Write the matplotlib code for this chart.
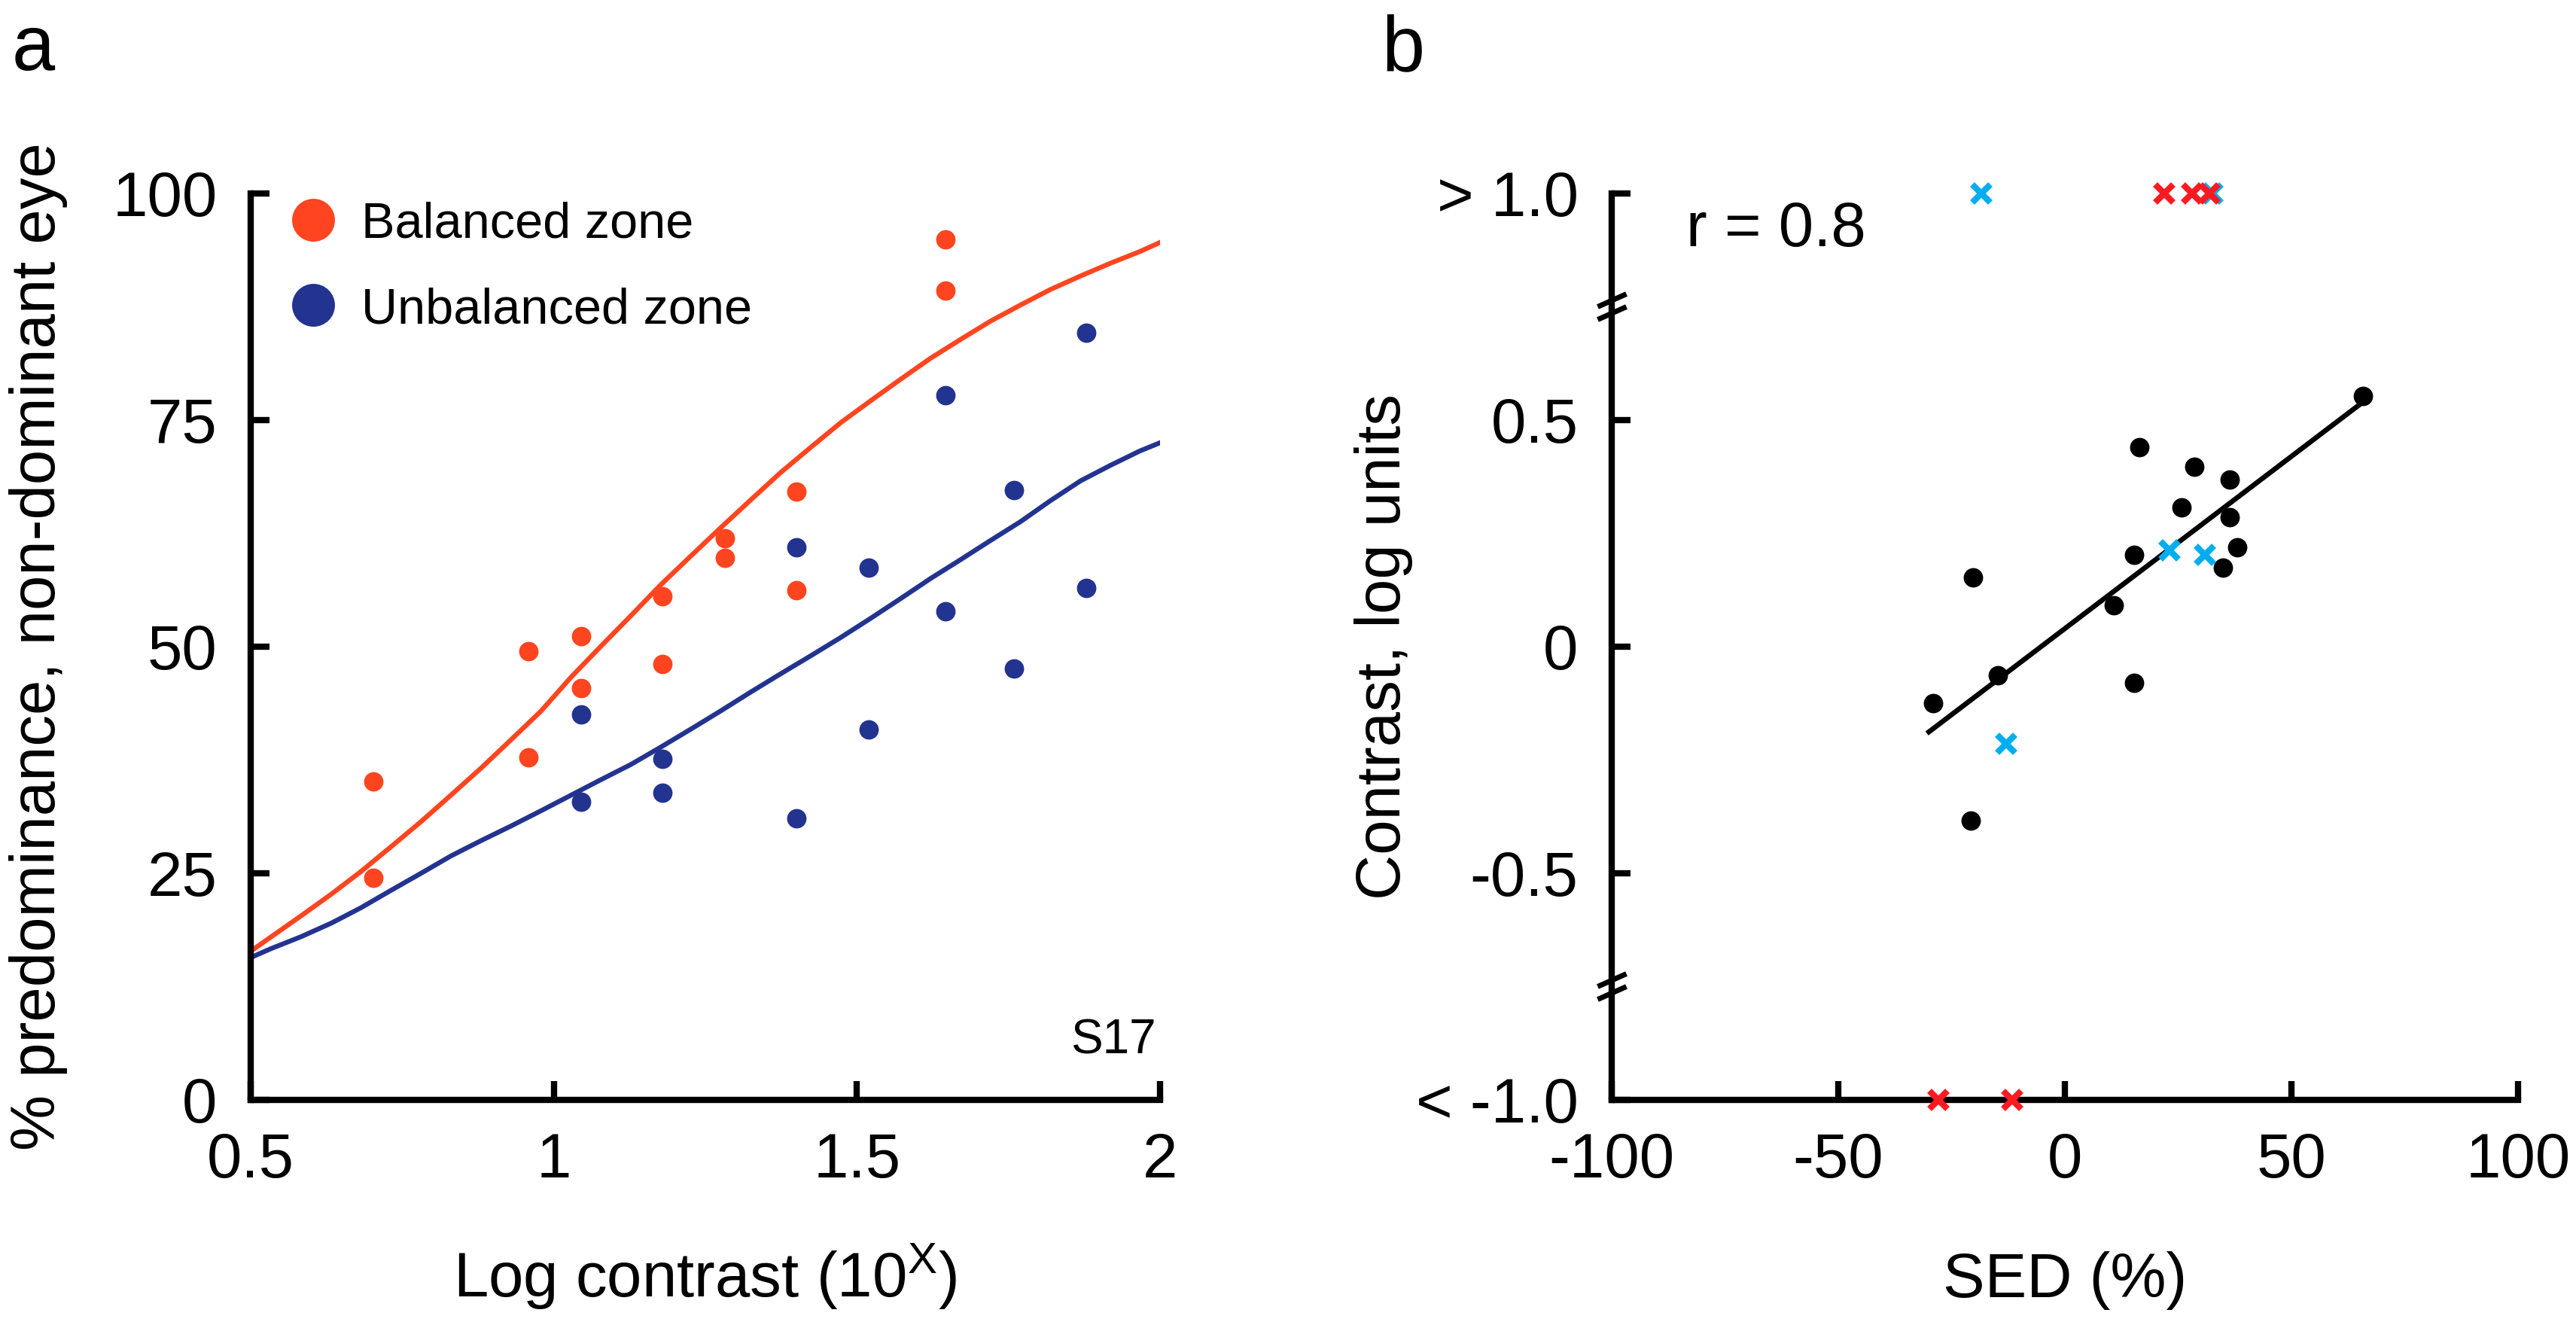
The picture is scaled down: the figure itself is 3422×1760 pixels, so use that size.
import numpy as np
import matplotlib
matplotlib.use("Agg")
import matplotlib.pyplot as plt
from matplotlib.path import Path

plt.rcParams["font.family"] = ["Liberation Sans", "DejaVu Sans"]
plt.rcParams["mathtext.fontset"] = "custom"
plt.rcParams["mathtext.rm"] = "Liberation Sans"
plt.rcParams["axes.unicode_minus"] = False

# ── DATA: panel a ────────────────────────────────────────────
bal_x = [0.702, 0.702, 0.958, 0.958, 1.045, 1.045, 1.179, 1.179,
         1.282, 1.282, 1.400, 1.400, 1.646, 1.646]
bal_y = [35.1, 24.5, 49.5, 37.8, 51.2, 45.4, 55.6, 48.1,
         62.0, 59.8, 67.1, 56.2, 94.9, 89.3]

unb_x = [1.045, 1.045, 1.179, 1.179, 1.400, 1.400, 1.519, 1.519,
         1.646, 1.646, 1.759, 1.759, 1.878, 1.878]
unb_y = [42.5, 32.9, 37.6, 33.9, 61.0, 31.1, 58.7, 40.9,
         77.7, 53.9, 67.3, 47.6, 84.6, 56.5]

# fitted curves
fit_x = [0.500, 0.534, 0.583, 0.633, 0.682, 0.731, 0.781, 0.830,
         0.880, 0.929, 0.979, 1.028, 1.077, 1.127, 1.176, 1.226,
         1.275, 1.325, 1.374, 1.424, 1.473, 1.522, 1.572, 1.621,
         1.671, 1.720, 1.770, 1.819, 1.869, 1.918, 1.967, 2.000]
bal_fit = [16.4, 18.0, 20.3, 22.7, 25.2, 27.9, 30.7, 33.6,
           36.6, 39.7, 42.9, 46.6, 50.0, 53.4, 56.8, 60.0,
           63.1, 66.2, 69.2, 72.0, 74.7, 77.1, 79.5, 81.8,
           83.9, 85.9, 87.7, 89.4, 90.9, 92.3, 93.6, 94.6]
unb_fit = [15.7, 16.7, 18.0, 19.5, 21.2, 23.1, 25.0, 26.9,
           28.6, 30.2, 31.9, 33.6, 35.3, 37.0, 38.9, 40.9,
           42.9, 45.0, 47.0, 49.0, 51.0, 53.1, 55.3, 57.5,
           59.6, 61.7, 63.8, 66.1, 68.3, 70.0, 71.6, 72.5]

a_xticks = [0.5, 1, 1.5, 2]
a_xlabels = ["0.5", "1", "1.5", "2"]
a_yticks = [0, 25, 50, 75, 100]

# ── DATA: panel b ────────────────────────────────────────────
sed_dots = [65.8, 16.4, 28.6, 36.4, 25.8, 36.4, 15.3, 38.1,
            34.8, -20.3, 10.8, -14.8, 15.3, -29.1, -20.8]
con_dots = [0.553, 0.440, 0.397, 0.368, 0.308, 0.286, 0.202, 0.220,
            0.174, 0.152, 0.092, -0.063, -0.080, -0.124, -0.384]

sed_cyan = [-18.4, 32.6, 23.1, 30.9, -13.0]
con_cyan = [1.0, 1.0, 0.213, 0.203, -0.214]

sed_red = [21.9, 28.1, 31.9, -27.9, -11.6]
con_red = [1.0, 1.0, 1.0, -1.0, -1.0]

reg_x = [-30.0, 65.8]
reg_y = [-0.188, 0.540]

b_xticks = [-100, -50, 0, 50, 100]
b_yticks = [-1.0, -0.5, 0, 0.5, 1.0]
b_ylabels = ["< -1.0", "-0.5", "0", "0.5", "> 1.0"]
break_y = [0.75, -0.75]

# ── STYLE ────────────────────────────────────────────────────
ORANGE = "#FF451F"
BLUE = "#233390"
CYAN = "#00AEEF"
RED = "#FF1A22"
FS = 30

fig = plt.figure(figsize=(17.11, 8.80), dpi=200)
ax_a = fig.add_axes([0.09731, 0.16989, 0.35301, 0.68409])
ax_b = fig.add_axes([0.62566, 0.16989, 0.35184, 0.68409])

for ax in (ax_a, ax_b):
    for s in ("top", "right"):
        ax.spines[s].set_visible(False)
    for s in ("left", "bottom"):
        ax.spines[s].set_linewidth(3.0)
        ax.spines[s].set_capstyle("projecting")
    ax.tick_params(direction="in", length=9, width=3.0, labelsize=FS)
    ax.tick_params(axis="x", pad=15)
    ax.tick_params(axis="y", pad=16)

# ── panel a ──────────────────────────────────────────────────
ax_a.plot(fit_x, bal_fit, color=ORANGE, lw=2.3, zorder=2)
ax_a.plot(fit_x, unb_fit, color=BLUE, lw=2.3, zorder=2)
ax_a.plot(bal_x, bal_y, "o", color=ORANGE, ms=9.3, mew=0, zorder=3)
ax_a.plot(unb_x, unb_y, "o", color=BLUE, ms=9.3, mew=0, zorder=3)

# legend drawn by hand to match placement
ax_a.plot([0.603], [97.1], "o", color=ORANGE, ms=20.5, mew=0, clip_on=False)
ax_a.plot([0.603], [87.7], "o", color=BLUE, ms=20.5, mew=0, clip_on=False)
ax_a.text(0.6825, 95.1, "Balanced zone", fontsize=24, va="baseline")
ax_a.text(0.6825, 85.7, "Unbalanced zone", fontsize=24, va="baseline")
ax_a.text(1.994, 5.1, "S17", fontsize=23, ha="right", va="baseline")

ax_a.set_xlim(0.5, 2)
ax_a.set_ylim(0, 100)
ax_a.set_xticks(a_xticks)
ax_a.set_xticklabels(a_xlabels)
ax_a.set_yticks(a_yticks)
ax_a.set_ylabel("% predominance, non-dominant eye", fontsize=FS)
ax_a.yaxis.set_label_coords(-0.201, 0.5)

# ── panel b ──────────────────────────────────────────────────
ax_b.plot(reg_x, reg_y, color="black", lw=2.4, zorder=2)
ax_b.plot(sed_dots, con_dots, "o", color="black", ms=9.3, mew=0, zorder=3)
ax_b.plot(sed_cyan, con_cyan, "x", color=CYAN, ms=8.5, mew=3.0, zorder=4,
          clip_on=False)
ax_b.plot(sed_red, con_red, "x", color=RED, ms=8.5, mew=3.0, zorder=4,
          clip_on=False)
ax_b.text(-83.6, 0.884, "r = 0.8", fontsize=FS, va="baseline")

# axis break marks (double slash)
brk = Path([(-19, -17), (19, 0), (-19, 0), (19, 17)],
           [Path.MOVETO, Path.LINETO, Path.MOVETO, Path.LINETO])
ax_b.plot([-100] * len(break_y), break_y, ls="none", marker=brk, ms=13.7,
          mew=2.5, mec="black", mfc="none", clip_on=False, zorder=5)

ax_b.set_xlim(-100, 100)
ax_b.set_ylim(-1, 1)
ax_b.set_xticks(b_xticks)
ax_b.set_yticks(b_yticks)
ax_b.set_yticklabels(b_ylabels)
ax_b.set_ylabel("Contrast, log units", fontsize=FS)
ax_b.yaxis.set_label_coords(-0.219, 0.5)

# x labels and panel letters
fig.text(0.2738, 0.0210, r"Log contrast ($\mathrm{10^{X}}$)", fontsize=FS,
         ha="center", va="baseline")
fig.text(0.8016, 0.0210, "SED (%)", fontsize=FS, ha="center", va="baseline")
fig.text(0.0047, 0.9472, "a", fontsize=37, va="baseline")
fig.text(0.5365, 0.9472, "b", fontsize=37, va="baseline")

fig.savefig("out.png", dpi=200)
